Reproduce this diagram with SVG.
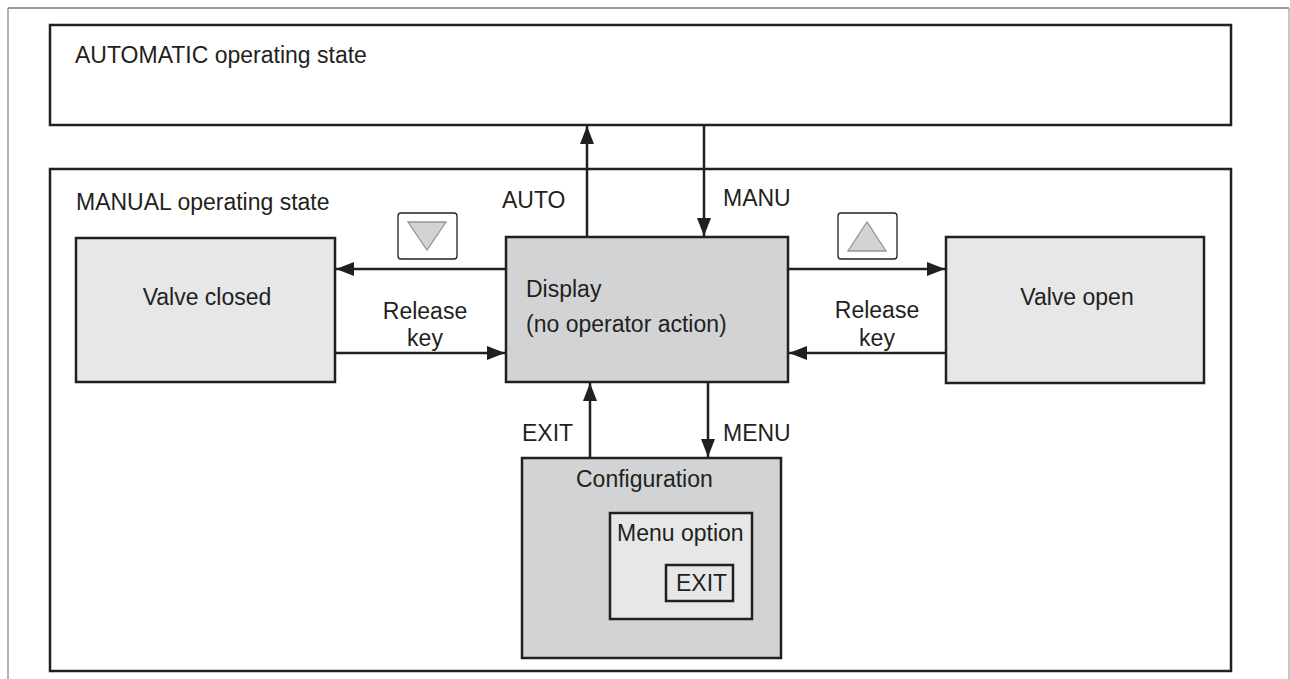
<svg xmlns="http://www.w3.org/2000/svg" width="1290" height="679" viewBox="0 0 1290 679">
<style>
text{font-family:"Liberation Sans",Arial,sans-serif;font-size:23px;fill:#231f20}
.box{stroke:#231f20;stroke-width:2.5}
.white{fill:#ffffff}
.dark{fill:#d1d3d4}
.light{fill:#e6e7e8}
.conn{stroke:#231f20;stroke-width:2.5;fill:none;marker-end:url(#ah)}
.key{fill:#ffffff;stroke:#231f20;stroke-width:1.3}
.tri{fill:#d1d3d4;stroke:#939598;stroke-width:1.3}
.mid{text-anchor:middle}
</style>
<defs>
<marker id="ah" viewBox="0 0 18 14" refX="18" refY="7" markerWidth="18" markerHeight="14" markerUnits="userSpaceOnUse" orient="auto">
<path d="M0,0 L18,7 L0,14 Z" fill="#231f20"/>
</marker>
</defs>
<rect width="1290" height="679" fill="#ffffff"/>
<g id="frame">
<line x1="8" y1="8" x2="1289" y2="8" stroke="#3a3a3a" stroke-width="1.2"/>
<line x1="8" y1="8" x2="8" y2="679" stroke="#808080" stroke-width="1.2"/>
<line x1="1289" y1="8" x2="1289" y2="679" stroke="#a0a0a0" stroke-width="1.2"/>
</g>
<g id="automatic">
<rect class="box white" x="50" y="25" width="1181" height="100"/>
<text x="75" y="63">AUTOMATIC operating state</text>
</g>
<g id="manual">
<rect class="box white" x="50" y="169" width="1181" height="502"/>
<text x="76" y="210">MANUAL operating state</text>
</g>
<g id="valve-closed">
<rect class="box light" x="76" y="238" width="259" height="144"/>
<text class="mid" x="207" y="305">Valve closed</text>
</g>
<g id="display">
<rect class="box dark" x="506" y="237" width="282" height="145"/>
<text x="526" y="297">Display</text>
<text x="526" y="332">(no operator action)</text>
</g>
<g id="valve-open">
<rect class="box light" x="946" y="237" width="258" height="146"/>
<text class="mid" x="1077" y="305">Valve open</text>
</g>
<g id="configuration">
<rect class="box dark" x="522" y="458" width="259" height="200"/>
<text x="576" y="487">Configuration</text>
<g id="menu-option">
<rect class="box light" x="610" y="513" width="142" height="106"/>
<text x="617" y="541">Menu option</text>
<g id="exit-key">
<rect class="box light" x="666" y="565" width="67" height="36"/>
<text x="676" y="591">EXIT</text>
</g>
</g>
</g>
<g id="key-down">
<rect class="key" x="398" y="213" width="59" height="46" rx="3"/>
<polygon class="tri" points="408,222 446,222 427,250"/>
</g>
<g id="key-up">
<rect class="key" x="838" y="213" width="59" height="46" rx="3"/>
<polygon class="tri" points="848,251 886,251 867,222"/>
</g>
<g id="connectors">
<line class="conn" x1="587" y1="237" x2="587" y2="126"/>
<line class="conn" x1="704" y1="125" x2="704" y2="236"/>
<line class="conn" x1="506" y1="269" x2="336" y2="269"/>
<line class="conn" x1="335" y1="353" x2="505" y2="353"/>
<line class="conn" x1="788" y1="269" x2="945" y2="269"/>
<line class="conn" x1="946" y1="353" x2="789" y2="353"/>
<line class="conn" x1="590" y1="458" x2="590" y2="383"/>
<line class="conn" x1="708" y1="382" x2="708" y2="457"/>
</g>
<g id="labels">
<text x="502" y="208">AUTO</text>
<text x="723" y="206">MANU</text>
<text class="mid" x="425" y="319">Release</text>
<text class="mid" x="425" y="346">key</text>
<text class="mid" x="877" y="318">Release</text>
<text class="mid" x="877" y="346">key</text>
<text x="522" y="441">EXIT</text>
<text x="723" y="441">MENU</text>
</g>
</svg>
